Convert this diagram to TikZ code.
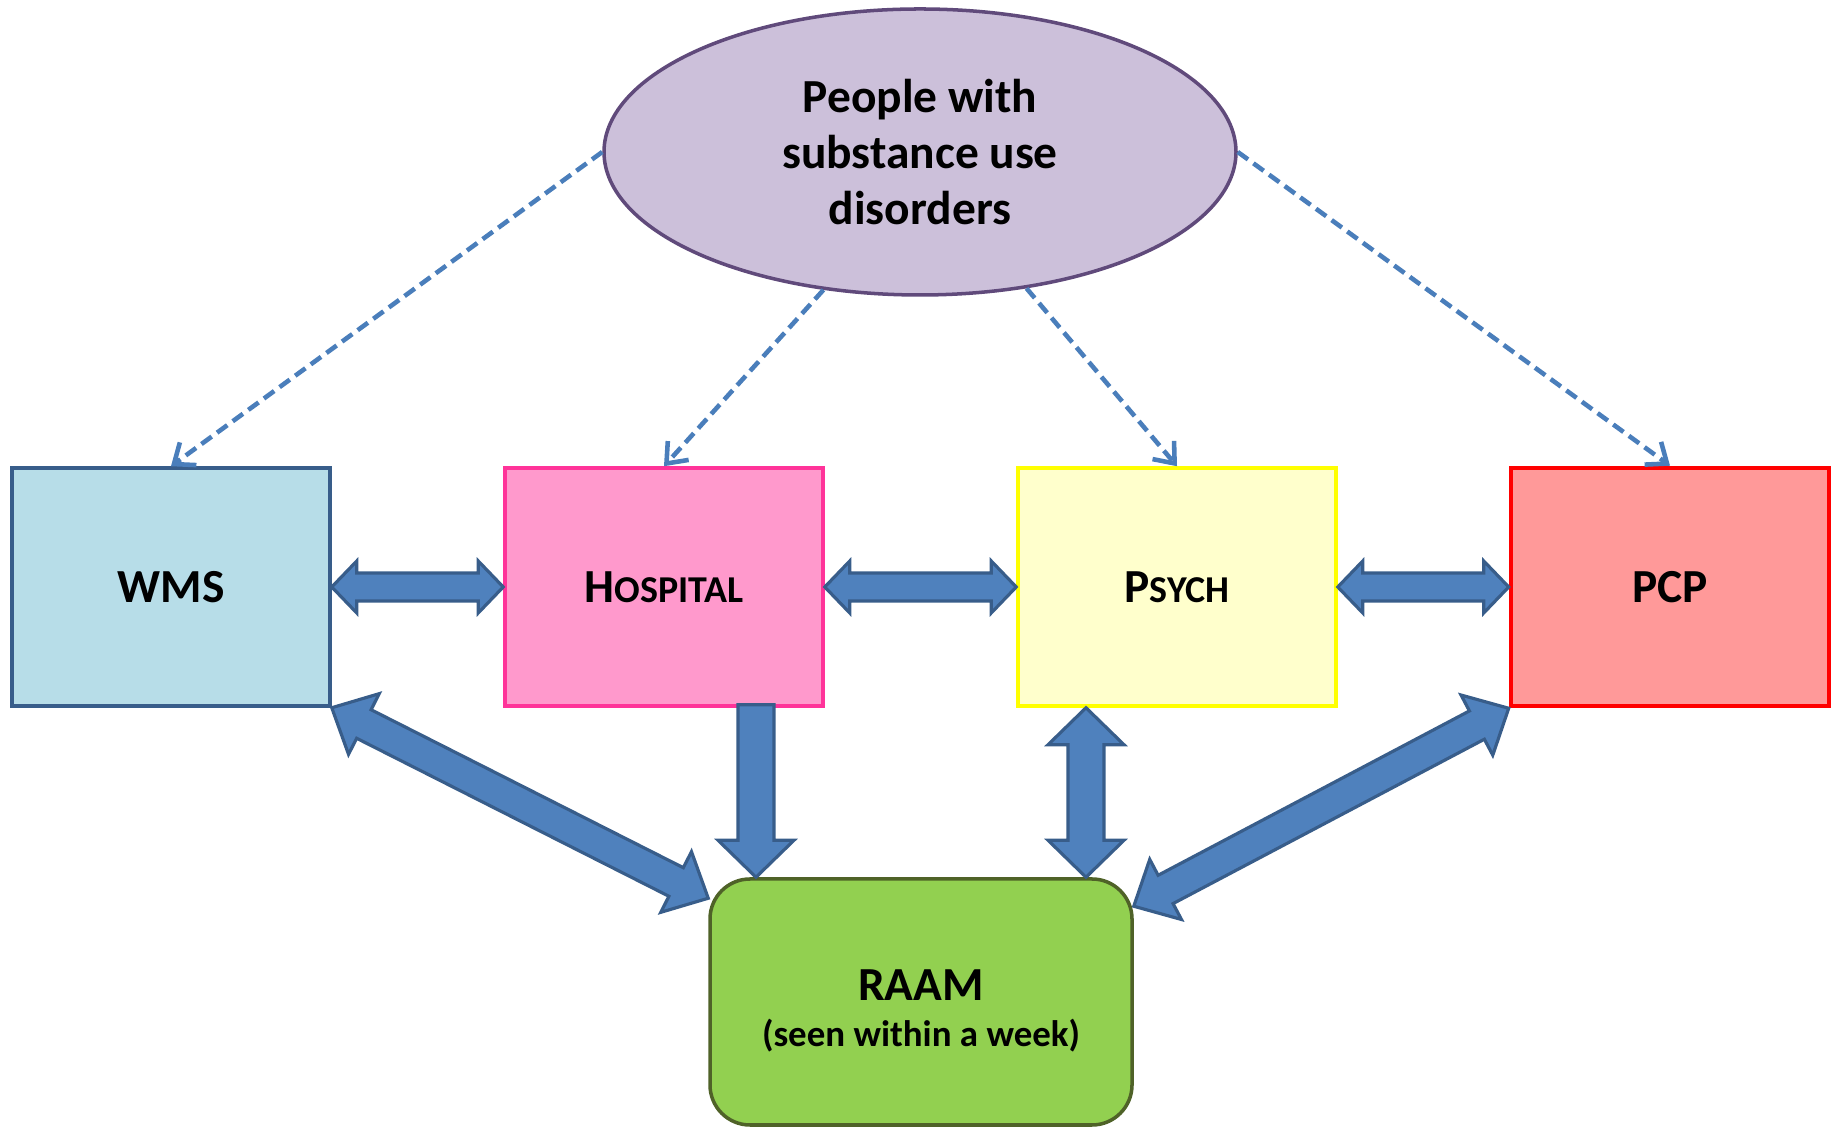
\documentclass[tikz,border=0pt]{standalone}
\usepackage{fontspec}
\setmainfont{Carlito}
\usetikzlibrary{shapes.geometric,arrows.meta,calc}

\definecolor{lilac}{RGB}{204,192,218}
\definecolor{lilacdraw}{RGB}{96,74,123}
\definecolor{wmsfill}{RGB}{183,221,232}
\definecolor{wmsdraw}{RGB}{56,93,138}
\definecolor{hospfill}{RGB}{255,153,204}
\definecolor{hospdraw}{RGB}{255,51,153}
\definecolor{psychfill}{RGB}{255,255,204}
\definecolor{psychdraw}{RGB}{255,255,0}
\definecolor{pcpfill}{RGB}{255,153,153}
\definecolor{pcpdraw}{RGB}{255,0,0}
\definecolor{raamfill}{RGB}{146,208,80}
\definecolor{raamdraw}{RGB}{79,98,40}
\definecolor{arrowfill}{RGB}{79,129,189}
\definecolor{arrowdraw}{RGB}{56,93,138}
\definecolor{dashblue}{RGB}{74,126,187}

\tikzset{
  unit/.style={draw, line width=1pt, minimum width=3.18cm, minimum height=2.38cm,
    inner sep=0pt, font=\fontsize{13.5}{16}\selectfont\bfseries},
  refer/.style={draw=dashblue, line width=1.3pt, dash pattern=on 3.6pt off 1.9pt,
    -{Straight Barb[length=5pt,width=8pt]}},
  fatline/.style={fill=arrowfill, draw=arrowdraw, line width=0.9pt, line join=miter},
}

% small capitals, faked
\newcommand{\fakesc}[2]{#1{\fontsize{10.8}{16}\selectfont #2}}

% block arrow with two heads: from, to, shaft half, head half, head length
\newcommand{\fatarrow}[5]{%
  \coordinate (fa-s) at #1;
  \coordinate (fa-e) at #2;
  \coordinate (fa-a) at ($(fa-s)!#5!(fa-e)$);
  \coordinate (fa-b) at ($(fa-e)!#5!(fa-s)$);
  \draw[fatline] (fa-s) -- ($(fa-a)!#4!90:(fa-e)$) -- ($(fa-a)!#3!90:(fa-e)$)
    -- ($(fa-b)!#3!-90:(fa-s)$) -- ($(fa-b)!#4!-90:(fa-s)$) -- (fa-e)
    -- ($(fa-b)!#4!90:(fa-s)$) -- ($(fa-b)!#3!90:(fa-s)$)
    -- ($(fa-a)!#3!-90:(fa-e)$) -- ($(fa-a)!#4!-90:(fa-e)$) -- cycle;
}
% block arrow with one head at the end
\newcommand{\fatarrowone}[5]{%
  \coordinate (fa-s) at #1;
  \coordinate (fa-e) at #2;
  \coordinate (fa-b) at ($(fa-e)!#5!(fa-s)$);
  \draw[fatline] ($(fa-s)!#3!90:(fa-e)$) -- ($(fa-b)!#3!-90:(fa-s)$)
    -- ($(fa-b)!#4!-90:(fa-s)$) -- (fa-e) -- ($(fa-b)!#4!90:(fa-s)$)
    -- ($(fa-b)!#3!90:(fa-s)$) -- ($(fa-s)!#3!-90:(fa-e)$) -- cycle;
}

\begin{document}
\begin{tikzpicture}
        \useasboundingbox (0,0) rectangle (18.33,11.29);

        %%%%%%%% Population %%%%%%%%
        \node[ellipse, draw=lilacdraw, fill=lilac, line width=1pt, inner sep=0pt,
          minimum width=6.32cm, minimum height=2.86cm, align=center,
          font=\fontsize{13.5}{16}\selectfont\bfseries] (people) at (9.20,9.77)
          {People with\\substance use\\disorders};

        %%%%%%%% Services %%%%%%%%
        \node[unit, draw=wmsdraw, fill=wmsfill] (wms) at (1.71,5.42) {WMS};
        \node[unit, draw=hospdraw, fill=hospfill] (hosp) at (6.64,5.42) {\fakesc{H}{OSPITAL}};
        \node[unit, draw=psychdraw, fill=psychfill] (psych) at (11.77,5.42) {\fakesc{P}{SYCH}};
        \node[unit, draw=pcpdraw, fill=pcpfill, line width=1.3pt] (pcp) at (16.70,5.42) {PCP};

        %%%%%%%% Clinic %%%%%%%%
        \node[draw=raamdraw, fill=raamfill, line width=1pt, rounded corners=0.4cm,
          minimum width=4.22cm, minimum height=2.46cm] (raam) at (9.21,1.27) {};
        \node[align=center, font=\fontsize{13.5}{14}\selectfont\bfseries] (raamlabel)
          at ([yshift=-0.09cm]raam.center)
          {RAAM\\[-1pt]{\fontsize{10.5}{12}\selectfont (seen within a week)}};

        %%%%%%%% Referrals %%%%%%%%
        \draw[refer] (people.west) -- (wms.north);
        \draw[refer] (people.235) -- (hosp.north);
        \draw[refer] (people.308) -- (psych.north);
        \draw[refer] (people.east) -- (pcp.north);

        %%%%%%%% Links between services %%%%%%%%
        \fatarrow{(wms.east)}{(hosp.west)}{0.14cm}{0.26cm}{0.25cm}
        \fatarrow{(hosp.east)}{(psych.west)}{0.14cm}{0.26cm}{0.25cm}
        \fatarrow{(psych.east)}{(pcp.west)}{0.14cm}{0.26cm}{0.25cm}

        %%%%%%%% Links to clinic %%%%%%%%
        \fatarrow{(wms.south east)}{([yshift=-0.21cm]raam.north west)}{0.16cm}{0.34cm}{0.36cm}
        \fatarrowone{([xshift=0.92cm,yshift=0.03cm]hosp.south)}{([xshift=-1.65cm]raam.north)}{0.18cm}{0.38cm}{0.37cm}
        \fatarrow{([xshift=-0.91cm]psych.south)}{([xshift=1.65cm]raam.north)}{0.18cm}{0.38cm}{0.37cm}
        \fatarrow{(pcp.south west)}{([yshift=-0.29cm]raam.north east)}{0.16cm}{0.34cm}{0.36cm}
\end{tikzpicture}
\end{document}
